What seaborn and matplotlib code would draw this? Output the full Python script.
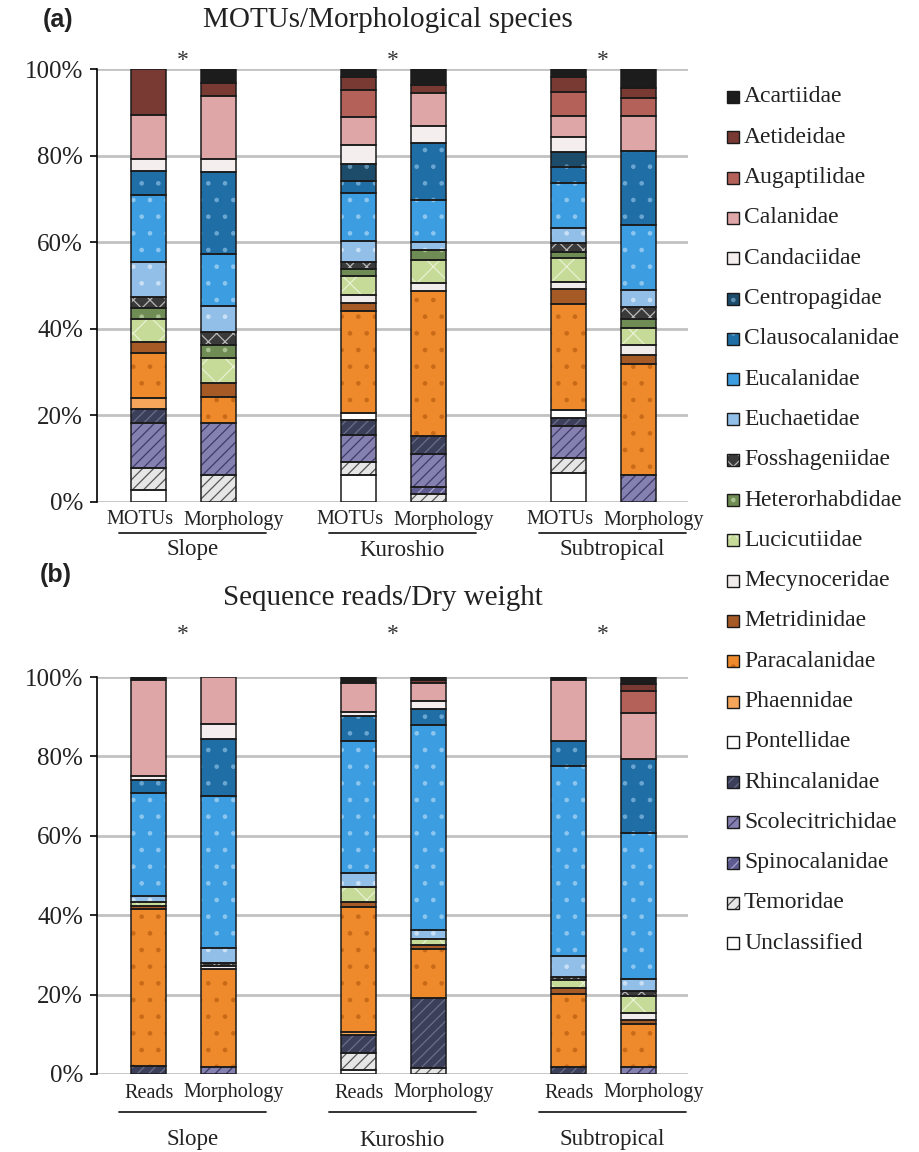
import matplotlib
matplotlib.use("Agg")
import matplotlib.pyplot as plt
import seaborn as sns
from matplotlib.patches import Rectangle
from matplotlib.transforms import blended_transform_factory

# ---- data (percent of each bar, families in legend order, top -> bottom) ----
families = [
    "Acartiidae", "Aetideidae", "Augaptilidae", "Calanidae", "Candaciidae",
    "Centropagidae", "Clausocalanidae", "Eucalanidae", "Euchaetidae",
    "Fosshageniidae", "Heterorhabdidae", "Lucicutiidae", "Mecynoceridae",
    "Metridinidae", "Paracalanidae", "Phaennidae", "Pontellidae",
    "Rhincalanidae", "Scolecitrichidae", "Spinocalanidae", "Temoridae",
    "Unclassified",
]
sites = ["Slope", "Kuroshio", "Subtropical"]
labels_a = ["MOTUs", "Morphology"]
labels_b = ["Reads", "Morphology"]

# panel (a): MOTUs / morphological species
slope_motus = [0, 10.6, 0, 10.3, 2.7, 0, 5.5, 15.5, 8.0, 2.7, 2.5, 5.2, 0, 2.7, 10.3, 2.6, 0, 3.2, 10.4, 0, 5.0, 2.8]
slope_morph = [3.2, 3.0, 0, 14.7, 3.0, 0, 18.8, 12.0, 6.0, 3.0, 3.1, 5.8, 0, 3.1, 6.0, 0, 0, 0, 12.1, 0, 6.2, 0]
kuro_motus = [1.8, 3.0, 6.2, 6.6, 4.4, 3.8, 2.9, 11.0, 4.8, 1.7, 1.6, 4.4, 1.9, 1.7, 23.6, 0, 1.7, 3.4, 6.2, 0, 3.1, 6.2]
kuro_morph = [3.6, 2.0, 0, 7.6, 4.0, 0, 13.1, 9.6, 1.8, 0, 2.3, 5.4, 1.8, 0, 33.6, 0, 0, 4.0, 7.7, 1.6, 1.9, 0]
subt_motus = [1.8, 3.4, 5.7, 4.9, 3.3, 3.6, 3.6, 10.5, 3.3, 2.1, 1.5, 5.4, 1.6, 3.6, 24.5, 0, 1.9, 1.7, 7.5, 0, 3.5, 6.6]
subt_morph = [4.5, 2.1, 4.3, 8.0, 0, 0, 17.1, 15.0, 4.0, 2.8, 2.1, 3.8, 2.4, 2.0, 25.7, 0, 0, 0, 6.2, 0, 0, 0]

# panel (b): sequence reads / dry weight
slope_reads = [0.7, 0, 0, 24.2, 1.0, 0, 3.3, 25.9, 1.5, 0, 0, 1.0, 0, 0.8, 39.6, 0, 0, 2.0, 0, 0, 0, 0]
slope_dryw = [0, 0, 0, 11.9, 3.8, 0, 14.3, 38.2, 3.8, 0.8, 0, 0, 0.8, 0, 24.6, 0, 0, 0, 1.8, 0, 0, 0]
kuro_reads = [1.4, 0, 0, 7.3, 1.1, 0, 6.4, 33.1, 3.6, 0, 0, 3.7, 0, 1.4, 31.3, 0.8, 0, 4.6, 0, 0, 4.2, 1.0]
kuro_dryw = [0.8, 0.8, 0, 4.5, 2.0, 0, 4.0, 51.6, 2.1, 0, 0, 1.6, 0, 1.0, 12.3, 0, 0, 17.7, 0, 0, 1.4, 0]
subt_reads = [0.7, 0, 0, 15.5, 0, 0, 6.3, 47.9, 5.1, 0.8, 0, 2.1, 0, 1.4, 18.4, 0, 0, 1.8, 0, 0, 0, 0]
subt_dryw = [1.7, 1.7, 5.7, 11.6, 0, 0, 18.6, 36.6, 3.1, 1.3, 0, 4.2, 1.8, 1.0, 10.8, 0, 0, 0, 1.8, 0, 0, 0]

# family -> (face colour, hatch, hatch colour)
STYLE = {
    "Acartiidae": ("#1c1c1c", None, "#1c1c1c"),
    "Aetideidae": ("#7a3a34", None, "#7a3a34"),
    "Augaptilidae": ("#b4615a", None, "#b4615a"),
    "Calanidae": ("#dfa6a8", None, "#dfa6a8"),
    "Candaciidae": ("#f4eeee", None, "#f4eeee"),
    "Centropagidae": ("#1d4b6a", ".", "#5f8fb0"),
    "Clausocalanidae": ("#1f6ea6", ".", "#6aa6d2"),
    "Eucalanidae": ("#3c9de0", ".", "#8cc6ef"),
    "Euchaetidae": ("#92bfe8", ".", "#c9e0f5"),
    "Fosshageniidae": ("#3a3a3a", "xx", "#b8b8b8"),
    "Heterorhabdidae": ("#6f8c55", ".", "#a9c090"),
    "Lucicutiidae": ("#c6db98", "x", "#e8f1d2"),
    "Mecynoceridae": ("#f1ecec", None, "#f1ecec"),
    "Metridinidae": ("#a65a26", None, "#a65a26"),
    "Paracalanidae": ("#ee8a2b", ".", "#c86a18"),
    "Phaennidae": ("#f6a65a", None, "#f6a65a"),
    "Pontellidae": ("#ffffff", None, "#ffffff"),
    "Rhincalanidae": ("#3b3f5a", "///", "#6a6e88"),
    "Scolecitrichidae": ("#8480b0", "///", "#3e3b66"),
    "Spinocalanidae": ("#5e5b90", "///", "#a7a4cc"),
    "Temoridae": ("#e6e6e6", "///", "#555555"),
    "Unclassified": ("#ffffff", None, "#ffffff"),
}

sns.set_theme(style="white")
plt.rcParams["font.family"] = ["Liberation Serif", "DejaVu Serif"]
plt.rcParams["hatch.linewidth"] = 0.9

W, H = 920, 1152
fig = plt.figure(figsize=(W / 100, H / 100), dpi=100)


def fx(px):
    return px / W


def fy(py):
    return 1 - py / H


XPOS = [0, 1, 3, 4, 6, 7]
EDGE = "#1a1a1a"


def draw_panel(ax, bars, bar_labels, y_lab, y_line, y_site, y_star):
    for x, vals in zip(XPOS, bars):
        total = sum(vals)
        bottom = 0.0
        for fam, v in reversed(list(zip(families, vals))):
            if v <= 0:
                continue
            h = v / total * 100
            face, hatch, hcol = STYLE[fam]
            ax.bar(x, h, bottom=bottom, width=0.5, color=face, hatch=hatch,
                   edgecolor=hcol, linewidth=0, zorder=2)
            ax.bar(x, h, bottom=bottom, width=0.5, fill=False,
                   edgecolor=EDGE, linewidth=1.1, zorder=3)
            bottom += h

    ax.set_xlim(-0.73, 7.71)
    ax.set_ylim(0, 100)
    ax.set_xticks([])
    ax.set_yticks(range(0, 101, 20))
    ax.set_yticklabels([f"{v}%" for v in range(0, 101, 20)])
    ax.tick_params(axis="y", left=True, direction="out", length=5, width=1.2,
                   color="black", labelsize=18, pad=5, labelcolor="#222222")
    ax.yaxis.grid(True, color="#c2c2c2", linewidth=2)
    ax.set_axisbelow(True)
    sns.despine(ax=ax, top=True, right=True, bottom=True)
    ax.spines["left"].set_color("black")
    ax.spines["left"].set_linewidth(1.2)

    tr = blended_transform_factory(ax.transData, fig.transFigure)
    for i, site in enumerate(sites):
        x0, x1 = XPOS[2 * i], XPOS[2 * i + 1]
        ax.text(x0 + 0.36, fy(y_lab), bar_labels[0], transform=tr, ha="right",
                va="center", fontsize=14.5, color="#222222")
        ax.text(x1 - 0.5, fy(y_lab), bar_labels[1], transform=tr, ha="left",
                va="center", fontsize=14.5, color="#222222")
        ax.plot([x0 - 0.42, x1 + 0.68], [fy(y_line)] * 2, transform=tr,
                color="#222222", lw=1.3, clip_on=False)
        ax.text((x0 + x1) / 2 + 0.13, fy(y_site), site, transform=tr,
                ha="center", va="center", fontsize=16.5, color="#222222")
        ax.text((x0 + x1) / 2, fy(y_star), "*", transform=tr, ha="center",
                va="center", fontsize=17, color="#333333")


ax_a = fig.add_axes([fx(97), fy(502), fx(688) - fx(97), fy(69) - fy(502)])
draw_panel(ax_a, [slope_motus, slope_morph, kuro_motus, kuro_morph, subt_motus, subt_morph],
           labels_a, 520, 533, 550, 60)

ax_b = fig.add_axes([fx(97), fy(1074), fx(688) - fx(97), fy(677) - fy(1074)])
draw_panel(ax_b, [slope_reads, slope_dryw, kuro_reads, kuro_dryw, subt_reads, subt_dryw],
           labels_b, 1093, 1112, 1140, 634)

# titles
fig.text(fx(58), fy(20), "(a)", fontsize=18, fontweight="bold",
         family="Liberation Sans", ha="center", va="center", color="#222222")
fig.text(fx(388), fy(20), "MOTUs/Morphological species", fontsize=21,
         ha="center", va="center", color="#222222")
fig.text(fx(56), fy(575), "(b)", fontsize=18, fontweight="bold",
         family="Liberation Sans", ha="center", va="center", color="#222222")
fig.text(fx(383), fy(598), "Sequence reads/Dry weight", fontsize=21,
         ha="center", va="center", color="#222222")

# legend, drawn by hand to keep the row spacing of the reference
for i, fam in enumerate(families):
    yc = 97 + 40.3 * i
    face, hatch, hcol = STYLE[fam]
    fig.add_artist(Rectangle((fx(727), fy(yc + 6)), 12 / W, 12 / H,
                             transform=fig.transFigure, facecolor=face,
                             hatch=hatch, edgecolor=hcol, linewidth=0))
    fig.add_artist(Rectangle((fx(727), fy(yc + 6)), 12 / W, 12 / H,
                             transform=fig.transFigure, fill=False,
                             edgecolor=EDGE, linewidth=1.0))
    fig.text(fx(744), fy(yc), fam, fontsize=17, ha="left", va="center",
             color="#222222")

fig.savefig("out.png", dpi=100)
